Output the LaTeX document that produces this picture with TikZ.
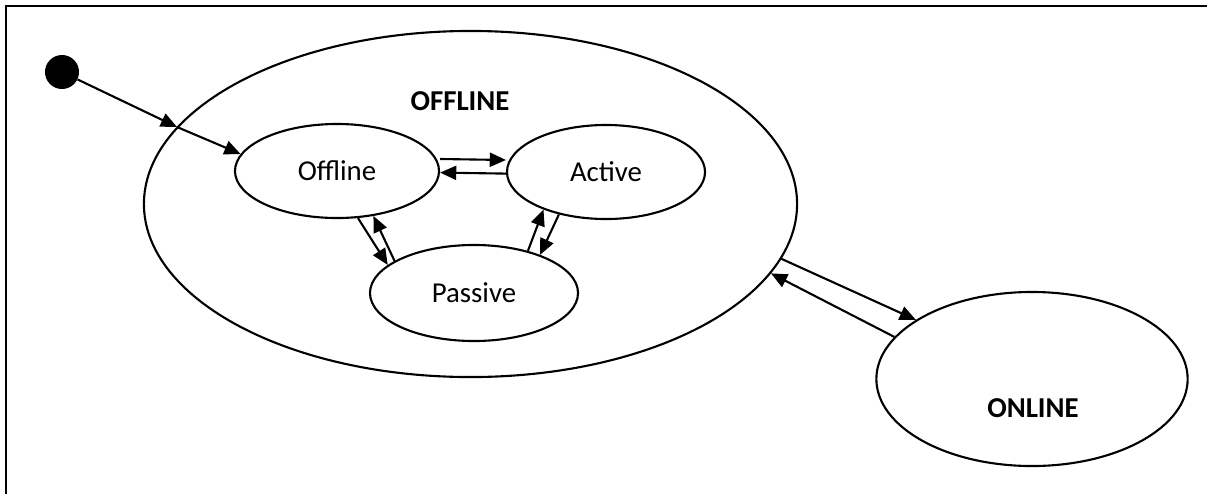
\documentclass[tikz,border=0pt]{standalone}
\usepackage{fontspec}
\setmainfont{Carlito}
\usepackage{tikz}
\usetikzlibrary{arrows.meta,shapes.geometric,positioning,calc}

\tikzset{
	state/.style={draw, ellipse, line width=1.5pt, inner sep=0pt, font=\fontsize{20.5}{24}\selectfont},
	trans/.style={line width=1.5pt, -{Triangle[length=11.5pt,width=10pt]}},
	biglabel/.style={font=\fontsize{20.5}{24}\selectfont\bfseries}
}

\begin{document}
\begin{tikzpicture}[x=0.025cm, y=-0.025cm]
		\useasboundingbox (0,0) rectangle (1207,494);
		\draw[line width=1.8pt] (6,494) -- (6,6) -- (1207,6);
		% outer states
		\node[state, minimum width=16.325cm, minimum height=8.65cm] (offbig) at (470.5,204) {};
		\node[biglabel] (offlbl) at (460,101) {OFFLINE};
		\node[state, minimum width=7.78cm, minimum height=4.35cm] (onbig) at (1032,379) {};
		\node[biglabel] (onlbl) at (1033,408) {ONLINE};
		% inner states
		\node[state, minimum width=5.1cm, minimum height=2.35cm] (off) at (337,171) {Offline};
		\node[state, minimum width=4.95cm, minimum height=2.35cm] (act) at (606,172) {Active};
		\node[state, minimum width=5.2cm, minimum height=2.4cm] (pas) at (474,293) {Passive};
		% initial state
		\node[circle, fill=black, minimum size=0.85cm, inner sep=0pt] (init) at (62,72) {};
		\coordinate (cross) at (177,127);
		\draw[trans] (init) -- (cross);
		\draw[trans] (cross) -- (off.170.6);
		% transitions
		\draw[trans] ([yshift=0.3cm]off.east) -- ([yshift=0.3cm]act.west);
		\draw[trans] ([yshift=-0.04cm]act.west) -- ([yshift=-0.04cm]off.east);
		\draw[trans] (off.-66) -- (pas.162);
		\draw[trans] (pas.158.6) -- (off.-51);
		\draw[trans] (pas.38.8) -- (act.-149);
		\draw[trans] (act.-138.6) -- (pas.30.8);
		\draw[trans] (offbig.-10) -- (onbig.153.2);
		\draw[trans] (onbig.163) -- (offbig.-13.6);
\end{tikzpicture}
\end{document}
